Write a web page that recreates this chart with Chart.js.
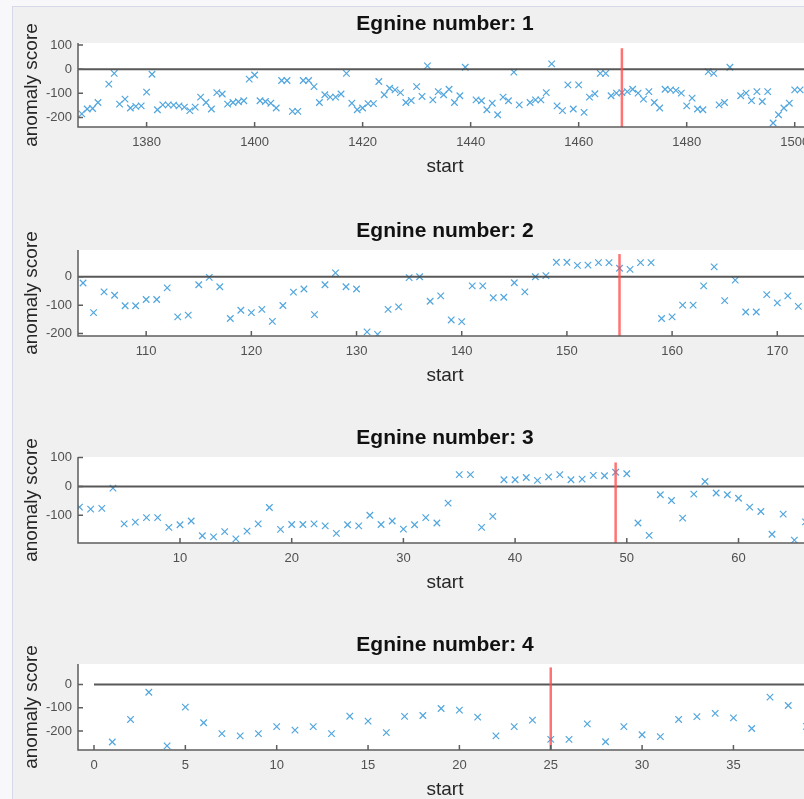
<!DOCTYPE html>
<html>
<head>
<meta charset="utf-8">
<script src="https://cdn.jsdelivr.net/npm/chart.js@4.4.1/dist/chart.umd.min.js"></script>
<style>
  html, body { margin: 0; padding: 0; width: 804px; height: 799px; overflow: hidden; background: #f8f8fa; }
  #frame { position: absolute; left: 12px; top: 6px; width: 900px; height: 900px; background: #f0f0f0;
           border-left: 1px solid #d6dae8; border-top: 1px solid #d6dae8; }
  .panel { position: absolute; left: 0; width: 890px; height: 207px; }
</style>
</head>
<body>
<div id="frame"></div>
<div class="panel" style="top:6px"><canvas id="c1" width="890" height="207"></canvas></div>
<div class="panel" style="top:213px"><canvas id="c2" width="890" height="207"></canvas></div>
<div class="panel" style="top:420px"><canvas id="c3" width="890" height="207"></canvas></div>
<div class="panel" style="top:627px"><canvas id="c4" width="890" height="207"></canvas></div>
<script>
// ---- data ----
const engine1Start = [1368,1369,1370,1371,1373,1374,1375,1376,1377,1378,1379,1380,1381,1382,1383,1384,1385,1386,1387,1388,
  1389,1390,1391,1392,1393,1394,1395,1396,1397,1398,1399,1400,1401,1402,1403,1404,1405,1406,1407,1408,
  1409,1410,1411,1412,1413,1414,1415,1416,1417,1418,1419,1420,1421,1422,1423,1424,1425,1426,1427,1428,
  1429,1430,1431,1432,1433,1434,1435,1436,1437,1438,1439,1441,1442,1443,1444,1445,1446,1447,1448,1449,
  1451,1452,1453,1454,1455,1456,1457,1458,1459,1460,1461,1462,1463,1464,1465,1466,1467,1468,1469,1470,
  1471,1472,1473,1474,1475,1476,1477,1478,1479,1480,1481,1482,1483,1484,1485,1486,1487,1488,1490,1491,
  1492,1493,1494,1495,1496,1497,1498,1499,1500,1501];
const engine1Score = [-185,-165,-163,-138,-62,-17,-145,-124,-161,-154,-152,-95,-21,-168,-148,-148,-149,-152,-157,-172,
  -157,-116,-138,-165,-97,-103,-145,-138,-135,-131,-41,-24,-131,-134,-141,-161,-47,-47,-175,-175,
  -47,-47,-72,-138,-106,-116,-116,-103,-17,-141,-168,-161,-143,-143,-51,-106,-79,-86,-97,-138,
  -130,-72,-113,14,-127,-93,-106,-83,-138,-110,8,-127,-131,-168,-141,-189,-116,-131,-12,-148,
  -138,-127,-127,-97,22,-152,-172,-65,-165,-65,-179,-116,-102,-17,-17,-110,-99,-97,-93,-83,
  -99,-124,-93,-138,-161,-83,-86,-88,-99,-152,-120,-165,-168,-10,-17,-148,-138,8,-110,-99,
  -130,-93,-134,-93,-223,-189,-161,-141,-86,-86];

const engine2Start = [104,105,106,107,108,109,110,111,112,113,114,115,116,117,118,119,120,121,122,123,
  124,125,126,127,128,129,130,131,132,133,134,135,136,137,138,139,140,141,142,143,
  144,145,146,147,148,149,150,151,152,153,154,155,156,157,158,159,160,161,162,163,
  164,165,166,167,168,169,170,171,172,173];
const engine2Score = [-22,-126,-53,-65,-102,-102,-80,-80,-39,-141,-135,-28,-2,-35,-147,-118,-126,-115,-157,-101,
  -54,-43,-133,-28,14,-35,-43,-194,-203,-115,-106,-3,0,-86,-67,-152,-158,-32,-32,-74,
  -72,-21,-53,0,4,51,51,40,41,50,50,30,26,50,50,-147,-141,-100,-100,-32,
  35,-84,-12,-124,-124,-63,-92,-67,-104,-94];

const engine3Start = [1,2,3,4,5,6,7,8,9,10,11,12,13,14,15,16,17,18,19,20,
  21,22,23,24,25,26,27,28,29,30,31,32,33,34,35,36,37,38,39,40,
  41,42,43,44,45,46,47,48,49,50,51,52,53,54,55,56,57,58,59,60,
  61,62,63,64,65,66];
const engine3Score = [-72,-79,-76,-6,-130,-124,-108,-108,-142,-133,-120,-171,-175,-157,-182,-155,-130,-73,-149,-132,
  -132,-130,-137,-163,-133,-137,-100,-132,-120,-148,-133,-108,-127,-58,41,41,-142,-104,23,23,
  31,21,33,41,23,25,38,37,49,44,-127,-170,-29,-49,-110,-27,17,-23,-29,-41,
  -72,-87,-166,-96,-186,-123];

const engine4Start = [1,2,3,4,5,6,7,8,9,10,11,12,13,14,15,16,17,18,19,20,
  21,22,23,24,25,26,27,28,29,30,31,32,33,34,35,36,37,38,39];
const engine4Score = [-247,-150,-33,-264,-97,-164,-211,-221,-211,-181,-196,-181,-211,-136,-157,-207,-137,-133,-103,-110,
  -140,-221,-181,-153,-236,-236,-169,-246,-181,-216,-224,-150,-138,-124,-143,-189,-54,-90,-180];

const engineNames = ['1', '2', '3', '4'];
const redLineX = [1468, 155, 49, 25];
const redLineTop = [87, 80, 83, 74];
const zeroLineFrom = [1367, 103, 0, 0];
const zeroLineTo = [1504, 174, 67, 40];

const xMin = [1367.3, 103.52, 0.868, -0.876];
const xMax = [1503.2, 173.3, 66.58, 39.3];
const yMin = [-239.7, -208.5, -196.2, -281.5];
const yMax = [108.7, 94.3, 101.9, 88.7];
const xTicks = [
  [1380, 1400, 1420, 1440, 1460, 1480, 1500],
  [110, 120, 130, 140, 150, 160, 170],
  [10, 20, 30, 40, 50, 60],
  [0, 5, 10, 15, 20, 25, 30, 35]
];
const yTicks = [
  [-200, -100, 0, 100],
  [-200, -100, 0],
  [-100, 0, 100],
  [-200, -100, 0]
];

// ---- drawing ----
const FONT = "'Liberation Sans', Arial, sans-serif";
const plotHeight = [84, 86, 86, 86];

// white plot box, left/bottom axis lines with inward ticks (matlab look)
const matlabAxes = {
    id: 'matlabAxes',
    beforeDraw(chart) {
        const { ctx, chartArea: a } = chart;
        ctx.save();
        ctx.fillStyle = '#ffffff';
        ctx.fillRect(a.left, a.top, a.right - a.left, a.bottom - a.top);
        ctx.restore();
    },
    afterDraw(chart) {
        const { ctx, chartArea: a, scales } = chart;
        ctx.save();
        ctx.strokeStyle = '#5e5e5e';
        ctx.lineWidth = 1.5;
        ctx.beginPath();
        ctx.moveTo(a.left, a.top);
        ctx.lineTo(a.left, a.bottom);
        ctx.lineTo(a.right + 10, a.bottom);
        scales.x.ticks.forEach(t => {
            const px = scales.x.getPixelForValue(t.value);
            ctx.moveTo(px, a.bottom);
            ctx.lineTo(px, a.bottom - 5);
        });
        scales.y.ticks.forEach(t => {
            const py = scales.y.getPixelForValue(t.value);
            ctx.moveTo(a.left, py);
            ctx.lineTo(a.left + 5, py);
        });
        ctx.stroke();
        ctx.restore();
    }
};

function makePanel(canvasId, i, starts, scores) {
    const xh = 170 - plotHeight[i];
    const points = starts.map((s, k) => ({ x: s, y: scores[k] }));

    return new Chart(document.getElementById(canvasId), {
        type: 'scatter',
        data: {
            datasets: [
                {
                    data: [{ x: redLineX[i], y: yMin[i] - 50 }, { x: redLineX[i], y: redLineTop[i] }],
                    showLine: true, borderColor: 'rgba(255,80,80,0.8)', borderWidth: 2.5,
                    pointRadius: 0, order: 0, clip: 0
                },
                {
                    data: [{ x: zeroLineFrom[i], y: 0 }, { x: zeroLineTo[i], y: 0 }],
                    showLine: true, borderColor: 'rgba(70,70,70,0.9)', borderWidth: 2,
                    pointRadius: 0, order: 1, clip: 0
                },
                {
                    data: points,
                    pointStyle: 'crossRot', pointRadius: 4.6, borderWidth: 1.2,
                    borderColor: '#52a6de', backgroundColor: 'transparent', order: 2
                }
            ]
        },
        options: {
            responsive: false,
            animation: false,
            layout: { padding: 0 },
            plugins: {
                legend: { display: false },
                tooltip: { enabled: false },
                title: {
                    display: true,
                    text: 'Egnine number: ' + engineNames[i],
                    color: '#111',
                    font: { family: FONT, size: 21, weight: 'bold', lineHeight: 1.2 },
                    padding: { top: 6, bottom: 5.8 }
                }
            },
            scales: {
                x: {
                    type: 'linear', min: xMin[i], max: xMax[i],
                    afterBuildTicks: s => { s.ticks = xTicks[i].map(v => ({ value: v })); },
                    afterFit: s => { s.height = xh; },
                    grid: { display: false, drawTicks: false },
                    border: { display: false },
                    ticks: {
                        autoSkip: false, maxRotation: 0, padding: 8, color: '#505050',
                        font: { family: FONT, size: 13 }, callback: v => String(v)
                    },
                    title: {
                        display: true, text: 'start', color: '#262626',
                        font: { family: FONT, size: 19, lineHeight: 1.2 },
                        padding: { top: 0, bottom: xh - 39.5 - 11.4 }
                    }
                },
                y: {
                    type: 'linear', min: yMin[i], max: yMax[i],
                    afterBuildTicks: s => { s.ticks = yTicks[i].map(v => ({ value: v })); },
                    afterFit: s => { s.width = 78; },
                    grid: { display: false, drawTicks: false },
                    border: { display: false },
                    ticks: {
                        padding: 6, color: '#505050',
                        font: { family: FONT, size: 13 }, callback: v => String(v)
                    },
                    title: {
                        display: true, text: 'anomaly score', color: '#262626',
                        font: { family: FONT, size: 19, lineHeight: 1.2 },
                        padding: { top: 20.6, bottom: 0 }
                    }
                },
                // empty box on the right so the title centres over the plot
                yRight: {
                    type: 'linear', position: 'right', display: true,
                    afterFit: s => { s.width = 78; },
                    grid: { display: false, drawTicks: false },
                    border: { display: false },
                    ticks: { display: false }
                }
            }
        },
        plugins: [matlabAxes]
    });
}

makePanel('c1', 0, engine1Start, engine1Score);
makePanel('c2', 1, engine2Start, engine2Score);
makePanel('c3', 2, engine3Start, engine3Score);
makePanel('c4', 3, engine4Start, engine4Score);
</script>
</body>
</html>
